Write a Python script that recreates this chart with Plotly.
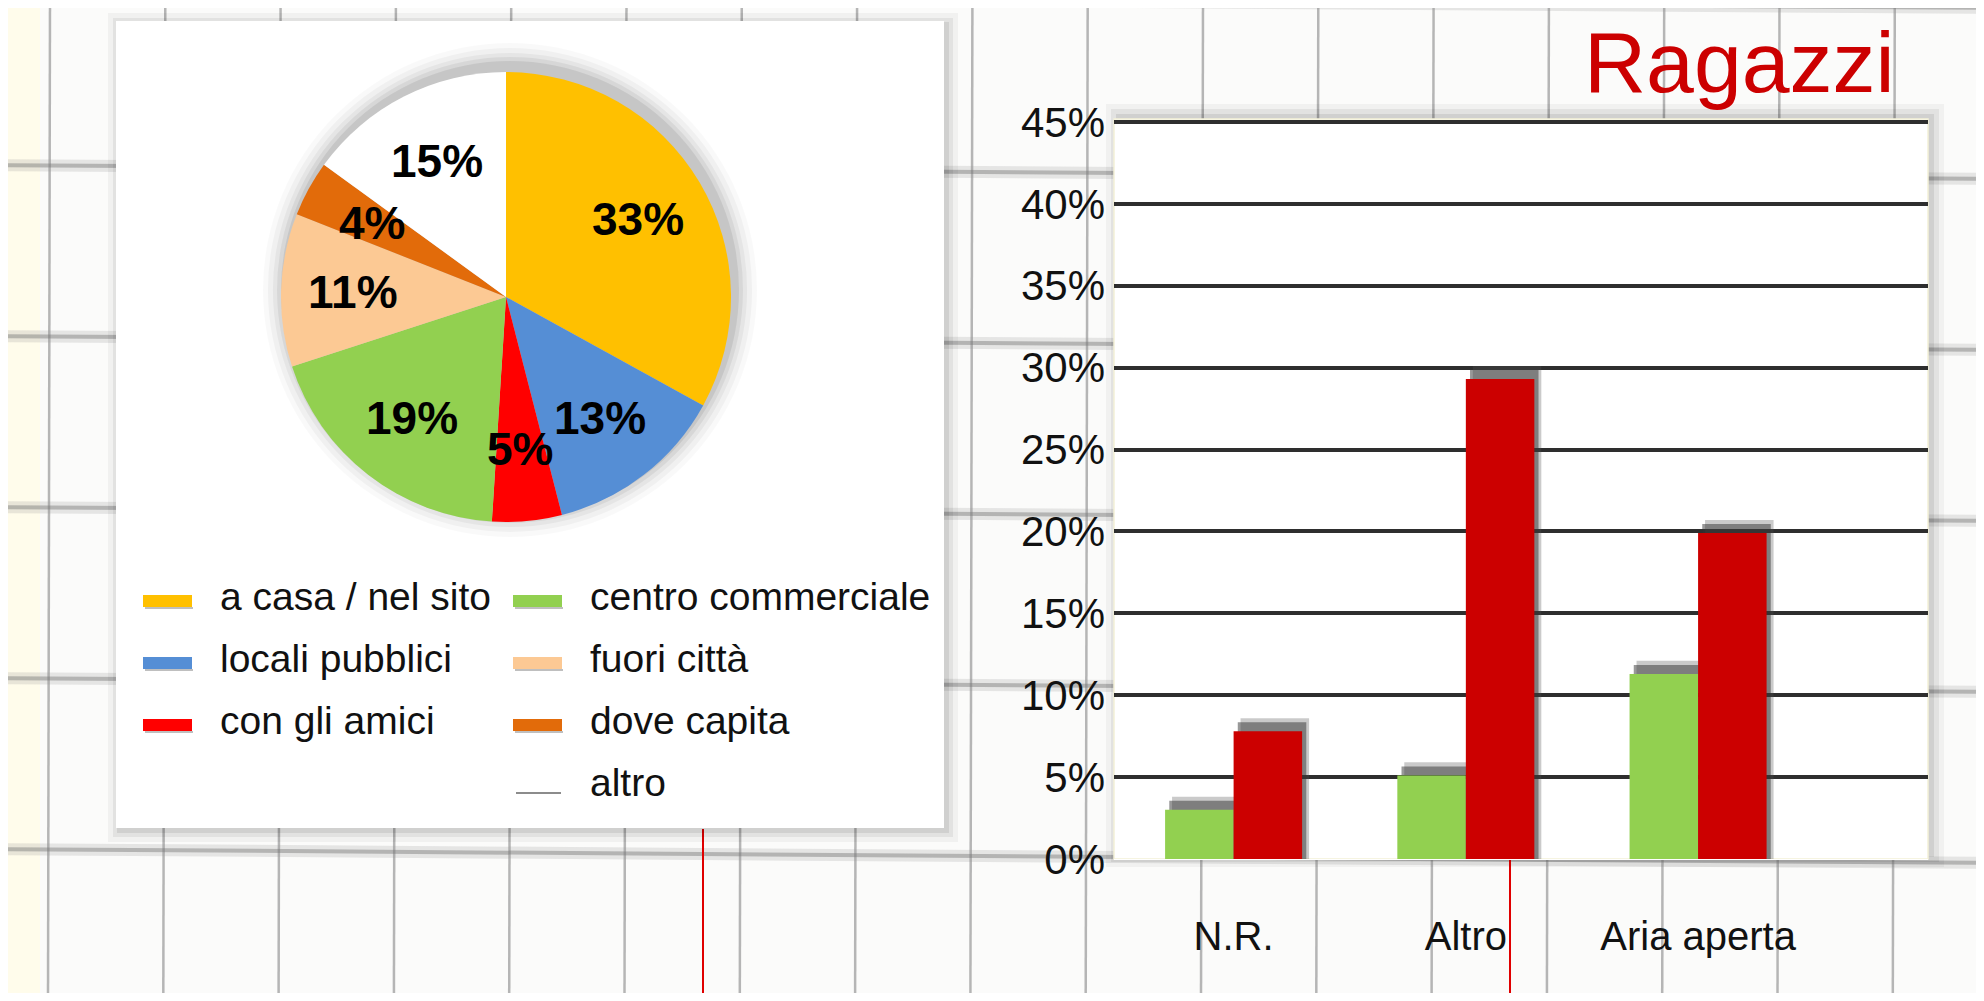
"""Pie + grouped bars on notebook paper."""

import math

import plotly.graph_objects as go

PAGE_W, PAGE_H = 1984, 1001
BODY = 8  # default body margin of the html page
W, H = PAGE_W - 2 * BODY, PAGE_H - 2 * BODY
FONT = "Liberation Sans, Arial, sans-serif"

PIE_LABELS = ["a casa / nel sito", "locali pubblici", "con gli amici", "centro commerciale",
              "fuori città", "dove capita", "altro"]
PIE_VALUES = [33, 13, 5, 19, 11, 4, 15]
PIE_COLORS = ["#FFC000", "#558ED5", "#FF0000", "#92D050", "#FCC994", "#E26B0A", "#FFFFFF"]

BAR_CATS = ["N.R.", "Altro", "Aria aperta"]
GREEN_VALS = [3.0, 5.1, 11.3]
RED_VALS = [7.8, 29.3, 19.9]
Y_TICKS = [0, 5, 10, 15, 20, 25, 30, 35, 40, 45]
Y_TICK_TEXT = [f"{v}%" for v in Y_TICKS]


def px(x):
    # page pixel -> paper fraction
    return (x - BODY) / W


def py(y):
    return 1 - (y - BODY) / H


# pie geometry (page pixels)
CX, CY, R = 506, 297, 225

fig = go.Figure()

# soft glow round the pie, pushed up and to the right
for grow, op in [(22, 0.025), (17, 0.035), (12, 0.045), (8, 0.06), (4, 0.08)]:
    gx, gy = CX + 4, CY - 7
    fig.add_trace(go.Pie(
        values=[1], marker=dict(colors=["#000000"], line=dict(width=0)), opacity=op,
        domain=dict(x=[px(gx - R - grow), px(gx + R + grow)], y=[py(gy + R + grow), py(gy - R - grow)]),
        textinfo="none", hoverinfo="skip", showlegend=False, sort=False,
    ))

fig.add_trace(go.Pie(
    labels=PIE_LABELS, values=PIE_VALUES, sort=False, direction="clockwise", rotation=0,
    marker=dict(colors=PIE_COLORS, line=dict(width=0)),
    domain=dict(x=[px(CX - R), px(CX + R)], y=[py(CY + R), py(CY - R)]),
    textinfo="none", showlegend=False,
))

# bars, with a dark shadow behind each one
BW = 0.295
for vals, off in [(GREEN_VALS, -BW), (RED_VALS, 0)]:
    for extra, shift, col in [(0.8, 0.03, "rgba(80,80,80,0.3)"), (0.55, 0.018, "rgba(50,50,50,0.5)")]:
        fig.add_trace(go.Bar(
            x=BAR_CATS, y=[v + extra for v in vals], width=BW, offset=off + shift,
            marker=dict(color=col, line=dict(width=0)), hoverinfo="skip", showlegend=False,
        ))
fig.add_trace(go.Bar(x=BAR_CATS, y=GREEN_VALS, width=BW, offset=-BW,
                     marker=dict(color="#92D050", line=dict(width=0)), showlegend=False))
fig.add_trace(go.Bar(x=BAR_CATS, y=RED_VALS, width=BW, offset=0,
                     marker=dict(color="#CC0000", line=dict(width=0)), showlegend=False))

shapes = []
# notebook paper: cream margin, vertical rules, blurred horizontal rules
shapes.append(dict(type="rect", xref="paper", yref="paper", x0=-0.01, x1=px(40), y0=-0.01, y1=1.01,
                   fillcolor="#FFFCEB", line=dict(width=0), layer="below"))
k = 0
while 48 + 115.3 * k < PAGE_W:
    x = 48 + 115.3 * k
    shapes.append(dict(type="line", xref="paper", yref="paper", x0=px(x), x1=px(x + 2), y0=-0.01, y1=1.01,
                       line=dict(color="rgba(135,135,135,0.6)", width=2.5), layer="below"))
    k += 1
for k in range(-1, 5):
    y = 165 + 171 * k
    for wdt, col in [(12, "rgba(150,150,150,0.22)"), (4, "rgba(120,120,120,0.45)")]:
        shapes.append(dict(type="line", xref="paper", yref="paper", x0=-0.01, x1=1.01, y0=py(y), y1=py(y + 14),
                           line=dict(color=col, width=wdt), layer="below"))
# red margin lines, only seen below the two panels
for x, top in [(703, 829), (1510, 860)]:
    shapes.append(dict(type="line", xref="paper", yref="paper", x0=px(x), x1=px(x), y0=-0.01, y1=py(top),
                       line=dict(color="#E00000", width=2), layer="below"))

# card behind the pie, with a shadow
for grow, op in [(14, 0.04), (9, 0.06), (5, 0.08)]:
    shapes.append(dict(type="rect", xref="paper", yref="paper",
                       x0=px(116 - grow + 6), x1=px(944 + grow), y0=py(828 + grow), y1=py(21 - grow + 6),
                       fillcolor=f"rgba(0,0,0,{op})", line=dict(width=0), layer="below"))
shapes.append(dict(type="rect", xref="paper", yref="paper", x0=px(116), x1=px(944), y0=py(828), y1=py(21),
                   fillcolor="#FFFFFF", line=dict(width=0), layer="below"))

# bar plot area: shadow, then white face
for grow, op in [(16, 0.04), (11, 0.06), (6, 0.08)]:
    shapes.append(dict(type="rect", xref="paper", yref="paper",
                       x0=px(1114 - grow + 8), x1=px(1928 + grow), y0=py(859 + grow - 8), y1=py(120 - grow),
                       fillcolor=f"rgba(0,0,0,{op})", line=dict(width=0), layer="below"))
shapes.append(dict(type="rect", xref="paper", yref="paper", x0=px(1114), x1=px(1928), y0=py(859), y1=py(119),
                   fillcolor="#FFFFFF", line=dict(color="#F3F1D8", width=1.5), layer="below"))

annotations = []
# percentage labels inside the slices
total = sum(PIE_VALUES)
cum = 0
for v in PIE_VALUES:
    mid = (cum + v / 2) / total
    cum += v
    th = 2 * math.pi * mid
    lx = CX + 0.68 * R * math.sin(th)
    ly = CY - 0.68 * R * math.cos(th)
    annotations.append(dict(x=px(lx), y=py(ly), xref="paper", yref="paper", showarrow=False,
                            xanchor="center", yanchor="middle",
                            text=f"<b>{round(100 * v / total)}%</b>",
                            font=dict(family=FONT, size=46, color="#000000")))

# legend in two columns
for i, (lab, col) in enumerate(zip(PIE_LABELS, PIE_COLORS)):
    c, r = (0, i) if i < 3 else (1, i - 3)
    sx = 143 + c * 370
    sy = 601 + r * 62
    if col == "#FFFFFF":
        shapes.append(dict(type="line", xref="paper", yref="paper", x0=px(sx + 3), x1=px(sx + 48),
                           y0=py(sy + 6), y1=py(sy + 6), line=dict(color="#8C8C8C", width=2)))
    else:
        shapes.append(dict(type="line", xref="paper", yref="paper", x0=px(sx + 2), x1=px(sx + 50),
                           y0=py(sy + 7), y1=py(sy + 7), line=dict(color="rgba(0,0,0,0.25)", width=2)))
        shapes.append(dict(type="rect", xref="paper", yref="paper", x0=px(sx), x1=px(sx + 49),
                           y0=py(sy + 6), y1=py(sy - 6), fillcolor=col, line=dict(width=0)))
    annotations.append(dict(x=px(sx + 75), y=py(sy - 5), xref="paper", yref="paper", showarrow=False,
                            xanchor="left", yanchor="middle", text=lab,
                            font=dict(family=FONT, size=39, color="#111111")))

annotations.append(dict(x=px(1739), y=py(62), xref="paper", yref="paper", showarrow=False,
                        xanchor="center", yanchor="middle", text="Ragazzi",
                        font=dict(family=FONT, size=86, color="#CC0000")))

fig.update_layout(
    width=W, height=H, margin=dict(l=0, r=0, t=0, b=0, autoexpand=False),
    paper_bgcolor="#FBFBFA", plot_bgcolor="#FFFFFF",
    barmode="overlay", showlegend=False,
    font=dict(family=FONT, color="#111111"),
    shapes=shapes, annotations=annotations,
    xaxis=dict(domain=[px(1114), px(1928)], range=[-0.515, 2.99], showgrid=False, showline=False,
               zeroline=False, ticks="", automargin=False,
               tickfont=dict(family=FONT, size=40, color="#111111"), ticklabelstandoff=50),
    yaxis=dict(domain=[py(859), py(119.5)], range=[0, 45.15], tickvals=Y_TICKS, ticktext=Y_TICK_TEXT,
               showgrid=True, gridcolor="#2E2E2E", gridwidth=4, showline=False, ticks="",
               zeroline=True, zerolinecolor="#FFFFFF", zerolinewidth=1, automargin=False,
               tickfont=dict(family=FONT, size=42, color="#111111"), ticklabelstandoff=8),
)

fig.write_html("out.html")
